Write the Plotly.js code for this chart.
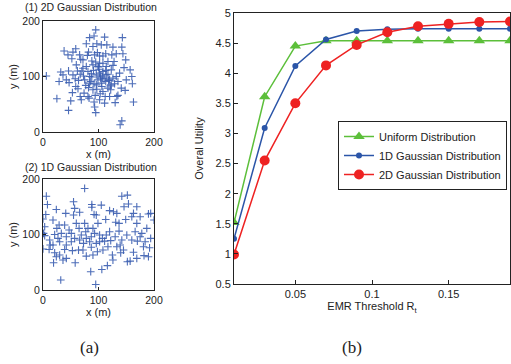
<!DOCTYPE html>
<html><head><meta charset="utf-8">
<script src="https://cdn.plot.ly/plotly-3.0.1.min.js"></script>
<style>html,body{margin:0;padding:0;background:#fff}#c{width:511px;height:364px}</style>
</head><body><div id="c"></div>
<script>
// (1) 2D Gaussian distribution points (m)
const g2x = [6,25,46,38,32,29,50,53,47,46,59,52,66,68,67,64,63,67,59,58,62,73,77,74,83,82,80,82,84,95,92,97,98,88,91,88,92,97,94,92,93,95,103,106,104,101,108,113,115,105,112,111,117,120,122,126,128,129,133,130,124,142,143,144,149,146,157,160,161,148,135,163,142,139,102,108,114,113,105,99,96,84,81,75,72,78,90,102,114,123,126,132,135,123,117,108,90,84,96,102,108,117,93,72,60,54,42,36,81,69,102,120,138,141,150,132,90,78,54,45,111,126,110,100,118,87,95,107,121,70,86,104,113,99];
const g2y = [101,60,39,146,108,91,56,71,89,110,150,132,139,131,104,93,78,64,82,96,110,101,84,70,61,80,138,144,170,184,173,159,143,128,111,99,87,77,66,54,45,35,69,82,97,113,124,141,157,157,64,52,104,94,76,120,127,87,64,53,139,153,170,141,130,116,112,100,87,75,66,54,20,13,106,109,103,91,88,94,103,100,109,94,115,118,121,124,118,112,97,100,91,85,79,73,76,88,85,137,137,127,139,130,121,103,94,103,64,58,58,64,106,79,94,141,154,159,144,139,171,153,96,117,93,105,126,99,83,110,91,101,111,118];
// (2) 1D Gaussian distribution points (m)
const g1x = [6,8,5,0,3,1,3,0,11,13,21,19,24,30,32,21,25,24,29,33,39,36,42,41,47,51,53,55,57,55,58,65,64,66,75,75,77,78,73,86,88,88,92,90,93,87,84,87,96,98,95,99,102,105,107,106,111,113,116,117,120,122,125,127,131,133,137,139,140,142,146,152,154,149,160,152,157,163,166,169,170,169,175,178,182,184,187,190,194,194,192,200,12,18,27,42,51,57,69,78,81,102,114,120,130,133,142,151,160,175,181,190,42,72,108,145,90,126,30,163,169,137,60,39,18,66,96];
const g1y = [169,154,136,128,114,102,98,74,73,81,67,49,60,63,18,100,111,145,117,102,73,54,57,138,108,87,71,159,147,135,49,111,72,90,183,120,105,61,84,33,154,149,136,111,102,96,87,77,84,69,10,120,99,153,93,37,88,127,44,78,143,89,63,141,122,138,106,81,67,169,150,171,155,127,132,51,52,68,105,120,88,57,132,102,62,87,111,137,138,93,76,126,90,81,93,96,102,93,99,93,111,87,99,105,96,78,90,99,90,96,78,60,81,72,72,72,63,54,87,138,150,120,120,117,126,140,135];
// (b) Overall utility vs EMR threshold
const thr = [0.01,0.03,0.05,0.07,0.09,0.11,0.13,0.15,0.17,0.19];
const uniform = [1.52,3.61,4.45,4.54,4.54,4.54,4.54,4.54,4.54,4.54];
const gauss1d = [1.25,3.09,4.12,4.56,4.70,4.73,4.74,4.74,4.74,4.74];
const gauss2d = [0.99,2.55,3.50,4.13,4.47,4.68,4.78,4.82,4.85,4.86];

const FONT = 'Liberation Sans, Arial, sans-serif';
const scatStyle = {symbol:'cross-thin-open', size:5.5, color:'#3a5db0', opacity:0.9, line:{width:1.1, color:'#3a5db0'}};
const traces = [
  {x:g2x, y:g2y, xaxis:'x', yaxis:'y', type:'scatter', mode:'markers', marker:scatStyle, showlegend:false},
  {x:g1x, y:g1y, xaxis:'x2', yaxis:'y2', type:'scatter', mode:'markers', marker:scatStyle, showlegend:false},
  {x:thr, y:uniform, xaxis:'x3', yaxis:'y3', type:'scatter', mode:'lines+markers', name:'Uniform Distribution',
   line:{color:'#5cbf3a', width:1.5}, marker:{symbol:'triangle-up', size:10, color:'#5cbf3a'}},
  {x:thr, y:gauss1d, xaxis:'x3', yaxis:'y3', type:'scatter', mode:'lines+markers', name:'1D Gaussian Distribution',
   line:{color:'#2b55a8', width:1.5}, marker:{symbol:'circle', size:6, color:'#2b55a8'}},
  {x:thr, y:gauss2d, xaxis:'x3', yaxis:'y3', type:'scatter', mode:'lines+markers', name:'2D Gaussian Distribution',
   line:{color:'#ee2222', width:1.5}, marker:{symbol:'circle', size:10, color:'#ee2222'}}
];
const smallAx = (dom, anchor, title) => ({domain:dom, anchor:anchor, range:[0,200], tickvals:[0,100,200],
  showgrid:false, zeroline:false, showline:true, mirror:true, linecolor:'#222', linewidth:1,
  ticks:'inside', ticklen:3, tickcolor:'#222', tickfont:{family:FONT, size:10.5, color:'#222'},
  title:{text:title, font:{family:FONT, size:11, color:'#222'}, standoff:2}});
const layout = {
  width:511, height:364, margin:{l:0,r:0,t:0,b:0}, paper_bgcolor:'#fff', plot_bgcolor:'#fff',
  font:{family:FONT, color:'#222'},
  xaxis: smallAx([43/511,154/511],'y','x (m)'),
  yaxis: smallAx([232/364,343/364],'x','y (m)'),
  xaxis2: smallAx([43/511,154/511],'y2','x (m)'),
  yaxis2: smallAx([74/364,185/364],'x2','y (m)'),
  xaxis3:{domain:[234/511,510/511], anchor:'y3', range:[0.01,0.19], tickvals:[0.05,0.1,0.15], ticktext:['0.05','0.1','0.15'],
    showgrid:false, zeroline:false, showline:true, mirror:true, linecolor:'#222', linewidth:1,
    ticks:'inside', ticklen:4, tickcolor:'#222', tickfont:{family:FONT, size:11, color:'#222'},
    title:{text:'EMR Threshold R<sub>t</sub>', font:{family:FONT, size:11, color:'#222'}, standoff:3}},
  yaxis3:{domain:[80/364,351/364], anchor:'x3', range:[0.5,5], tickvals:[0.5,1,1.5,2,2.5,3,3.5,4,4.5,5],
    ticktext:['0.5','1','1.5','2','2.5','3','3.5','4','4.5','5'],
    showgrid:false, zeroline:false, showline:true, mirror:true, linecolor:'#222', linewidth:1,
    ticks:'inside', ticklen:4, tickcolor:'#222', tickfont:{family:FONT, size:11, color:'#222'},
    title:{text:'Overal Utility', font:{family:FONT, size:11, color:'#222'}, standoff:9}},
  legend:{x:338/511, y:1-121/364, xanchor:'left', yanchor:'top', bgcolor:'#fff', bordercolor:'#222', borderwidth:1,
    font:{family:FONT, size:11, color:'#222'}, tracegroupgap:0, itemwidth:30},
  annotations:[
    {text:'(1) 2D Gaussian Distribution', xref:'paper', yref:'paper', x:91/511, y:1-7/364, xanchor:'center', yanchor:'middle', showarrow:false, font:{family:FONT,size:10.5,color:'#222'}},
    {text:'(2) 1D Gaussian Distribution', xref:'paper', yref:'paper', x:91/511, y:1-167/364, xanchor:'center', yanchor:'middle', showarrow:false, font:{family:FONT,size:10.5,color:'#222'}},
    {text:'(a)', xref:'paper', yref:'paper', x:89/511, y:1-347/364, xanchor:'center', yanchor:'middle', showarrow:false, font:{family:'Liberation Serif, Times New Roman, serif',size:17,color:'#222'}},
    {text:'(b)', xref:'paper', yref:'paper', x:352/511, y:1-347/364, xanchor:'center', yanchor:'middle', showarrow:false, font:{family:'Liberation Serif, Times New Roman, serif',size:17,color:'#222'}}
  ]
};
Plotly.newPlot('c', traces, layout, {displayModeBar:false, staticPlot:true});
</script></body></html>
